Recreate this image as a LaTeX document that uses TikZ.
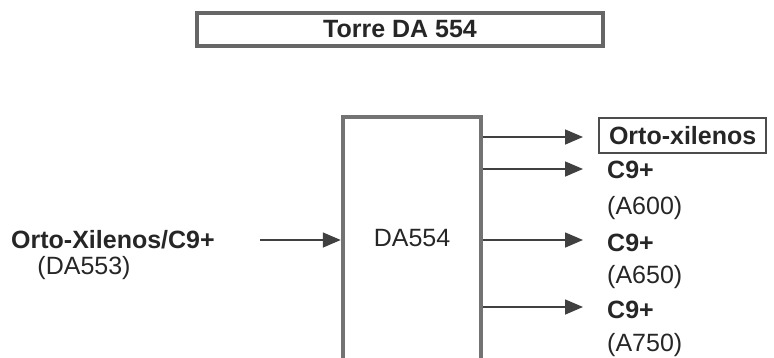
\documentclass[tikz,border=0pt]{standalone}
\usepackage{fontspec}
\setmainfont{Liberation Sans}
\usetikzlibrary{arrows.meta}
\tikzset{
  flow/.style={-{Triangle[length=18pt,width=15pt]}, line width=1.6pt, draw=black!75},
  titlebox/.style={draw=black!60, line width=3.5pt, minimum width=406pt, minimum height=33pt, inner sep=0pt},
  tower/.style={draw=black!55, line width=4.5pt, minimum width=138pt, minimum height=243pt, inner sep=0pt},
  prodbox/.style={draw=black!70, line width=2pt, minimum height=35pt, inner xsep=10pt, inner ysep=0pt, font=\fontsize{25}{28}\selectfont\bfseries},
  lbl/.style={inner sep=0pt, text=black!85}
}
\begin{document}
\begin{tikzpicture}[x=1pt, y=-1pt, font=\fontsize{25}{28}\selectfont, text=black!85]
  \useasboundingbox (0,0) rectangle (774,357);
  \clip (0,0) rectangle (774,357);
  % title
  \node[titlebox] (title) at (400,29.5) {\textbf{Torre DA 554}};
  % column
  \node[tower] (da) at (412,238.5) {DA554};
  % feed
  \node[lbl, anchor=west] (feed) at (11,240) {\textbf{Orto-Xilenos/C9+}};
  \node[lbl] (feedsrc) at (84,268) {(DA553)};
  \coordinate (feedstart) at (260,240);
  \draw[flow] (feedstart) -- (da.west |- feedstart);
  % products
  \node[prodbox, anchor=west] (ox) at (598,135.5) {Orto-xilenos};
  \node[lbl, anchor=west] (c1) at (607,170) {\textbf{C9+}};
  \node[lbl, anchor=west] (a1) at (607,208) {(A600)};
  \node[lbl, anchor=west] (c2) at (607,243) {\textbf{C9+}};
  \node[lbl, anchor=west] (a2) at (607,277) {(A650)};
  \node[lbl, anchor=west] (c3) at (607,310) {\textbf{C9+}};
  \node[lbl, anchor=west] (a3) at (607,345) {(A750)};
  % outlets
  \foreach \y/\n in {137/1, 169/2, 240/3, 307/4}
    \coordinate (tip\n) at (583,\y);
  \foreach \n in {1,...,4}
    \draw[flow] (da.east |- tip\n) -- (tip\n);
\end{tikzpicture}
\end{document}
